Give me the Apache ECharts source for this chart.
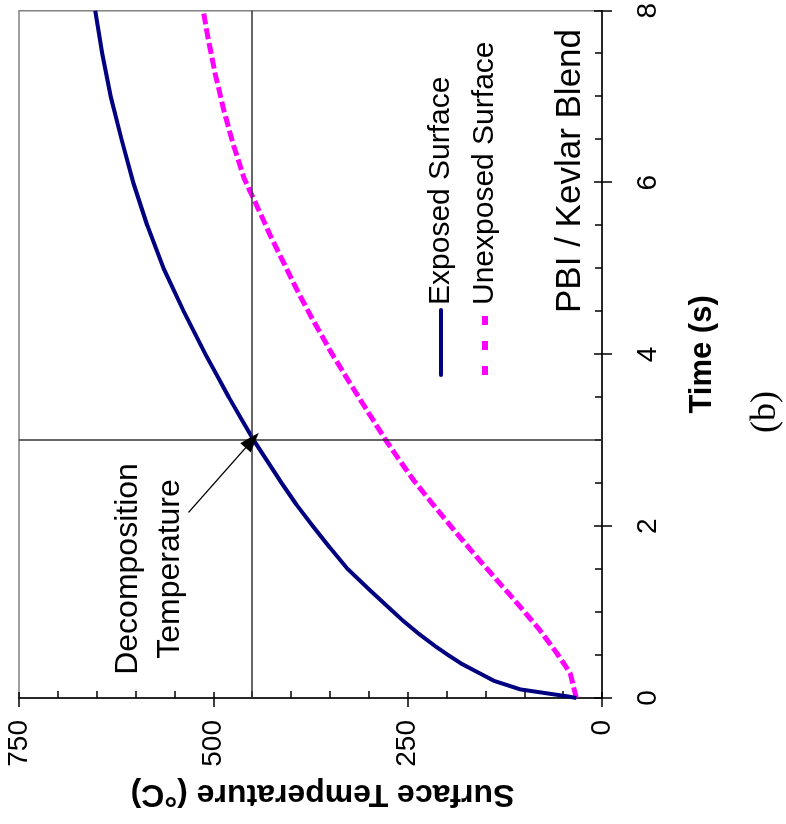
<!DOCTYPE html>
<html>
<head>
<meta charset="utf-8">
<script src="https://cdn.jsdelivr.net/npm/echarts@6/dist/echarts.min.js"></script>
<style>
  html, body { margin: 0; padding: 0; background: #fff; overflow: hidden; width: 786px; height: 824px; }
  #chart { position: absolute; left: 0; top: 0; width: 824px; height: 786px;
           transform-origin: 0 0; transform: translateY(824px) rotate(-90deg); }
</style>
</head>
<body>
<div id="chart"></div>
<script>
// ---- data (time in s, surface temperature in °C) ----
const exposedTime = [0, 0.02, 0.1, 0.2, 0.3, 0.4, 0.5, 0.6, 0.75, 0.9, 1.0, 1.25, 1.5, 1.75, 2.0, 2.25, 2.5, 2.75, 3.0, 3.25, 3.5, 3.75, 4.0, 4.5, 5.0, 5.5, 6.0, 6.5, 7.0, 7.5, 8.0];
const exposedTemp = [33, 45, 105, 139, 160, 181, 198, 214, 236, 256, 268, 298, 327, 350, 372, 393, 412, 430, 448, 464, 480, 495, 510, 538, 564, 585, 603, 618, 632, 643, 652];
const unexposedTime = [0, 0.29, 0.52, 0.79, 1.06, 1.33, 1.64, 1.95, 2.26, 2.53, 2.84, 3.0, 3.3, 3.69, 4.0, 4.42, 4.69, 5.0, 5.39, 5.77, 6.04, 6.43, 6.86, 7.28, 7.74, 8.0];
const unexposedTemp = [33, 41, 58, 80, 105, 131, 161, 190, 218, 242, 266, 278, 299, 326, 347, 373, 389, 406, 427, 446, 460, 474, 487, 498, 508, 513];
const seriesNames = ['Exposed Surface', 'Unexposed Surface'];
const decompTime = 3;        // s
const decompTemp = 450;      // °C
const arrowTail = [2.16, 532];
const timeTicks = { min: 0, max: 8, interval: 2 };
const tempTicks = { min: 0, max: 750, interval: 250 };

const FONT = '"Liberation Sans", Arial, sans-serif';
const zip = (a, b) => a.map((v, i) => [v, b[i]]);

const chart = echarts.init(document.getElementById('chart'), null, { renderer: 'canvas' });

const baseX = { type: 'value', min: timeTicks.min, max: timeTicks.max, interval: timeTicks.interval, position: 'bottom', splitLine: { show: false } };
const baseY = { type: 'value', min: tempTicks.min, max: tempTicks.max, interval: tempTicks.interval, position: 'left', splitLine: { show: false } };

chart.setOption({
  animation: false,
  backgroundColor: '#fff',
  grid: { left: 126, right: 8, top: 19, bottom: 184, show: true, borderColor: '#808080', borderWidth: 1.5, containLabel: false },
  xAxis: [
    Object.assign({}, baseX, {
      name: 'Time (s)', nameLocation: 'middle', nameGap: 85,
      nameTextStyle: { fontSize: 31, fontWeight: 'bold', color: '#000', fontFamily: FONT },
      axisLine: { show: true, lineStyle: { color: '#000', width: 1.5 } },
      axisTick: { show: true, inside: false, length: 10, lineStyle: { color: '#000', width: 1.5 } },
      axisLabel: { fontSize: 28, color: '#000', margin: 32, fontFamily: FONT }
    }),
    Object.assign({}, baseX, {
      axisLine: { show: false },
      axisTick: { show: true, inside: true, length: 8, lineStyle: { color: '#000', width: 1.5 } },
      minorTick: { show: true, splitNumber: 4, length: 7, lineStyle: { color: '#000', width: 1.5 } },
      axisLabel: { show: false }
    })
  ],
  yAxis: [
    Object.assign({}, baseY, {
      name: 'Surface Temperature (°C)', nameLocation: 'middle', nameGap: 72, nameRotate: 90,
      nameTextStyle: { fontSize: 32, fontWeight: 'bold', color: '#000', fontFamily: FONT, padding: [0, 24, 0, 0] },
      axisLine: { show: true, lineStyle: { color: '#000', width: 1.5 } },
      axisTick: { show: true, inside: false, length: 9, lineStyle: { color: '#000', width: 1.5 } },
      axisLabel: { fontSize: 28, color: '#000', margin: 22, fontFamily: FONT }
    }),
    Object.assign({}, baseY, {
      axisLine: { show: false },
      axisTick: { show: true, inside: true, length: 6, lineStyle: { color: '#000', width: 1.5 } },
      minorTick: { show: true, splitNumber: 5, length: 7, lineStyle: { color: '#000', width: 1.5 } },
      axisLabel: { show: false }
    })
  ],
  legend: {
    data: [
      { name: seriesNames[0], lineStyle: { color: '#000080', width: 4, type: 'solid', cap: 'round' } },
      { name: seriesNames[1], lineStyle: { color: '#FF00FF', width: 6, type: [9, 16], cap: 'butt' } }
    ],
    orient: 'vertical', left: 446, top: 426, padding: 0,
    itemWidth: 65, itemHeight: 12, itemGap: 14,
    itemStyle: { opacity: 0 },
    textStyle: { fontSize: 30, color: '#000', fontFamily: FONT }
  },
  series: [
    {
      name: seriesNames[0], type: 'line', xAxisIndex: 0, yAxisIndex: 0,
      data: zip(exposedTime, exposedTemp), showSymbol: false, symbol: 'none', smooth: false,
      lineStyle: { color: '#000080', width: 4 }, itemStyle: { color: '#000080' }, z: 3,
      markLine: {
        silent: true, animation: false, symbol: ['none', 'none'],
        label: { show: false },
        lineStyle: { color: '#333', width: 1.5, type: 'solid' },
        data: [
          { xAxis: decompTime },
          { yAxis: decompTemp },
          [
            { coord: arrowTail, symbol: 'none', lineStyle: { color: '#000', width: 1.2 } },
            { coord: [decompTime, decompTemp], symbol: 'triangle', symbolSize: [14, 20] }
          ]
        ]
      }
    },
    {
      name: seriesNames[1], type: 'line', xAxisIndex: 0, yAxisIndex: 0,
      data: zip(unexposedTime, unexposedTemp), showSymbol: false, symbol: 'none', smooth: false,
      lineStyle: { color: '#FF00FF', width: 5, type: [11, 4], cap: 'butt' }, itemStyle: { color: '#FF00FF' }, z: 2
    }
  ],
  graphic: [
    { type: 'text', x: 511, y: 570, style: { text: 'PBI / Kevlar Blend', font: '35px ' + FONT, fill: '#000', textVerticalAlign: 'middle', textAlign: 'left' } },
    { type: 'text', x: 255, y: 149, style: { text: 'Decomposition\nTemperature', font: '32px ' + FONT, fill: '#000', textAlign: 'center', textVerticalAlign: 'middle', lineHeight: 42 } },
    { type: 'text', x: 412, y: 766, style: { text: '(b)', font: '36px "Liberation Serif", "Times New Roman", serif', fill: '#000', textAlign: 'center', textVerticalAlign: 'middle' } }
  ]
});
</script>
</body>
</html>
